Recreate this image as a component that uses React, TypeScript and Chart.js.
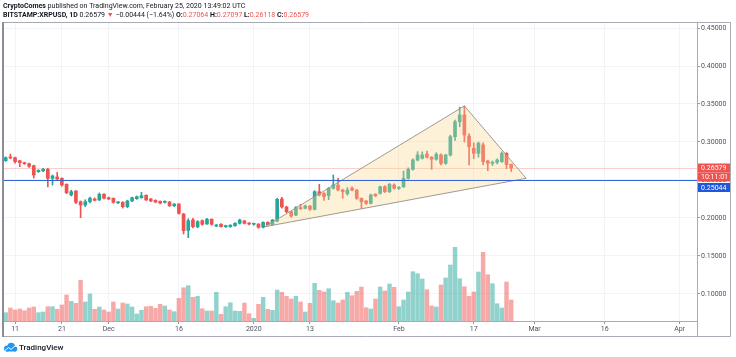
import React, { useEffect, useRef } from 'react';
import { Chart, registerables } from 'chart.js';

Chart.register(...registerables);

// ---- DATA (daily candles BITSTAMP:XRPUSD, day 0 = 2019-11-09) ----
const opens = [
  0.2754, 0.2800, 0.2794, 0.2754, 0.2728, 0.2715, 0.2688, 0.2610, 0.2620, 0.2640,
  0.2522, 0.2540, 0.2522, 0.2443, 0.2303, 0.2355, 0.2215, 0.2171, 0.2215, 0.2250,
  0.2237, 0.2312, 0.2267, 0.2259, 0.2200, 0.2207, 0.2149, 0.2224, 0.2254, 0.2267,
  0.2299, 0.2250, 0.2233, 0.2219, 0.2207, 0.2211, 0.2162, 0.2184, 0.2053, 0.1838,
  0.1974, 0.1886, 0.1965, 0.1922, 0.1983, 0.1895, 0.1917, 0.1886, 0.1886, 0.1899,
  0.1930, 0.1961, 0.1930, 0.1918, 0.1921, 0.1878, 0.1943, 0.1912, 0.1960, 0.2250,
  0.2145, 0.2083, 0.2039, 0.2136, 0.2128, 0.2158, 0.2114, 0.2346, 0.2325, 0.2293,
  0.2391, 0.2434, 0.2368, 0.2320, 0.2391, 0.2368, 0.2259, 0.2224, 0.2193, 0.2312,
  0.2325, 0.2412, 0.2346, 0.2434, 0.2390, 0.2412, 0.2522, 0.2641, 0.2763, 0.2786,
  0.2842, 0.2799, 0.2773, 0.2829, 0.2720, 0.2829, 0.3070, 0.3267, 0.3355, 0.3079,
  0.2917, 0.2851, 0.2961, 0.2750, 0.2720, 0.2733, 0.2741, 0.2851, 0.27064,
];
const highs = [
  0.2805, 0.2842, 0.2800, 0.2760, 0.2735, 0.2722, 0.2695, 0.2635, 0.2655, 0.2655,
  0.2565, 0.2600, 0.2530, 0.2450, 0.2365, 0.2360, 0.2225, 0.2240, 0.2275, 0.2265,
  0.2330, 0.2320, 0.2275, 0.2265, 0.2215, 0.2215, 0.2235, 0.2275, 0.2290, 0.2338,
  0.2305, 0.2258, 0.2240, 0.2225, 0.2225, 0.2218, 0.2190, 0.2190, 0.2060, 0.1990,
  0.1995, 0.1965, 0.1975, 0.1995, 0.1990, 0.1915, 0.1925, 0.1905, 0.1912, 0.1940,
  0.1985, 0.1970, 0.1940, 0.1930, 0.1925, 0.1950, 0.1950, 0.1980, 0.2260, 0.2272,
  0.2155, 0.2090, 0.2150, 0.2180, 0.2170, 0.2165, 0.2360, 0.2443, 0.2335, 0.2400,
  0.2566, 0.2522, 0.2380, 0.2400, 0.2410, 0.2375, 0.2265, 0.2230, 0.2315, 0.2320,
  0.2420, 0.2425, 0.2455, 0.2450, 0.2415, 0.2618, 0.2660, 0.2780, 0.2873, 0.2870,
  0.2880, 0.2810, 0.2860, 0.2845, 0.2840, 0.3090, 0.3290, 0.3457, 0.3474, 0.3110,
  0.2990, 0.3000, 0.2990, 0.2760, 0.2750, 0.2780, 0.2870, 0.2860, 0.27097,
];
const lows = [
  0.2745, 0.2780, 0.2720, 0.2675, 0.2705, 0.2665, 0.2526, 0.2600, 0.2610, 0.2410,
  0.2434, 0.2500, 0.2420, 0.2320, 0.2290, 0.2190, 0.2004, 0.2149, 0.2200, 0.2225,
  0.2230, 0.2250, 0.2240, 0.2195, 0.2190, 0.2130, 0.2135, 0.2215, 0.2245, 0.2260,
  0.2230, 0.2215, 0.2200, 0.2185, 0.2195, 0.2150, 0.2150, 0.2050, 0.1789, 0.1741,
  0.1870, 0.1870, 0.1905, 0.1915, 0.1905, 0.1885, 0.1880, 0.1875, 0.1878, 0.1890,
  0.1920, 0.1920, 0.1910, 0.1905, 0.1865, 0.1870, 0.1905, 0.1905, 0.1950, 0.2130,
  0.2070, 0.2010, 0.2030, 0.2110, 0.2120, 0.2100, 0.2105, 0.2290, 0.2230, 0.2240,
  0.2380, 0.2355, 0.2259, 0.2300, 0.2355, 0.2245, 0.2128, 0.2180, 0.2185, 0.2280,
  0.2315, 0.2335, 0.2335, 0.2380, 0.2375, 0.2400, 0.2510, 0.2630, 0.2750, 0.2775,
  0.2790, 0.2641, 0.2760, 0.2700, 0.2705, 0.2815, 0.3020, 0.3200, 0.3000, 0.2700,
  0.2780, 0.2800, 0.2700, 0.2622, 0.2690, 0.2710, 0.2730, 0.2650, 0.26118,
];
const closes = [
  0.2794, 0.2790, 0.2741, 0.2728, 0.2714, 0.2680, 0.2566, 0.2627, 0.2640, 0.2522,
  0.2553, 0.2513, 0.2434, 0.2333, 0.2346, 0.2207, 0.2171, 0.2215, 0.2260, 0.2233,
  0.2312, 0.2259, 0.2250, 0.2207, 0.2207, 0.2149, 0.2224, 0.2267, 0.2280, 0.2293,
  0.2237, 0.2224, 0.2211, 0.2197, 0.2219, 0.2162, 0.2184, 0.2062, 0.1833, 0.1965,
  0.1886, 0.1952, 0.1917, 0.1983, 0.1917, 0.1908, 0.1886, 0.1900, 0.1905, 0.1930,
  0.1974, 0.1930, 0.1921, 0.1922, 0.1878, 0.1943, 0.1912, 0.1974, 0.2246, 0.2145,
  0.2083, 0.2026, 0.2136, 0.2123, 0.2158, 0.2114, 0.2346, 0.2303, 0.2280, 0.2391,
  0.2434, 0.2368, 0.2346, 0.2368, 0.2368, 0.2259, 0.2215, 0.2193, 0.2303, 0.2293,
  0.2412, 0.2346, 0.2443, 0.2391, 0.2403, 0.2522, 0.2640, 0.2763, 0.2829, 0.2829,
  0.2799, 0.2773, 0.2838, 0.2720, 0.2829, 0.3070, 0.3267, 0.3355, 0.3092, 0.2938,
  0.2851, 0.2983, 0.2741, 0.2720, 0.2729, 0.2763, 0.2851, 0.27023, 0.26579,
];
const volumes = [
  8.3, 13, 11, 12, 10.3, 13, 14, 8.3, 9, 14.3,
  14.3, 11.7, 16, 26, 19.7, 17.7, 40.7, 19, 27, 11.7,
  14, 11, 9, 19, 12, 18, 17, 14, 7, 10.7,
  14.3, 14.7, 12.7, 16.7, 15, 11, 9.3, 22.7, 33.3, 35.3,
  23.7, 24.7, 12.3, 10, 10, 28.7, 6.7, 14.3, 18.3, 10,
  9.7, 18, 7.3, 2.7, 16.7, 23.7, 11.7, 10.7, 31, 28.7,
  24.7, 22, 24.7, 19, 9, 17.7, 37.7, 30.7, 29, 32.3,
  20.3, 18, 21, 28.7, 25.3, 29.7, 34, 13.3, 12, 22,
  34, 30, 37, 33.7, 14.3, 21, 29, 49.3, 47.3, 42,
  31.3, 15, 14, 36, 43, 56, 73.7, 42.3, 34.3, 24.7,
  29, 49, 68.7, 46.3, 37.3, 17.3, 13, 39, 21,
];

const xTickDays = [2, 12, 22, 37, 53, 65, 84, 100, 113, 128, 144];
const xTickLabels = ['11', '21', 'Dec', '16', '2020', '13', 'Feb', '17', 'Mar', '16', 'Apr'];
const yTicks = [0.1, 0.15, 0.2, 0.25, 0.3, 0.35, 0.4, 0.45];

const triangleDays = [55.4, 98.0, 111.2];
const trianglePrices = [0.1886, 0.3474, 0.2522];
const horizontalLinePrice = 0.25044;
const countdownText = '10:11:01';
const symbolText = 'BITSTAMP:XRPUSD, 1D';
const publisherText = 'CryptoComes';
const publishedText = ' published on TradingView.com, February 25, 2020 13:49:02 UTC';

// ---- STYLE ----
const UP = '#26a69a';
const DOWN = '#ef5350';
const UP_VOL = 'rgba(38,166,154,0.5)';
const DOWN_VOL = 'rgba(239,83,80,0.5)';
const BLUE_LINE = '#3563d6';
const BLUE_LABEL = '#1f58dc';
const TEXT = '#131722';
const AXIS_TEXT = '#4c525e';
const FONT = 'Roboto, "Open Sans", sans-serif';
const FRAME = '#a8abb4';

const fmt5 = (v: number) => v.toFixed(5);
const minus = (s: string) => s.replace('-', '\u2212');

const overlayPlugin = {
  id: 'overlay',
  beforeDraw(chart: any) {
    const { ctx, width, height } = chart;
    ctx.save();
    ctx.fillStyle = '#ffffff';
    ctx.fillRect(0, 0, width, height);
    ctx.restore();
  },
  beforeDatasetsDraw(chart: any) {
    const { ctx, chartArea: a, scales } = chart;
    const y = scales.y;
    const n = closes.length;
    ctx.save();
    const yl = Math.round(y.getPixelForValue(closes[n - 1])) + 0.5;
    ctx.strokeStyle = 'rgba(239,83,80,0.28)';
    ctx.lineWidth = 1;
    ctx.beginPath();
    ctx.moveTo(a.left, yl);
    ctx.lineTo(a.right, yl);
    ctx.stroke();
    ctx.restore();
  },
  afterDatasetsDraw(chart: any) {
    const { ctx, chartArea: a, scales } = chart;
    const x = scales.x;
    const y = scales.y;
    ctx.save();
    ctx.beginPath();
    triangleDays.forEach((d, i) => {
      const px = x.getPixelForValue(d);
      const py = y.getPixelForValue(trianglePrices[i]);
      if (i === 0) ctx.moveTo(px, py);
      else ctx.lineTo(px, py);
    });
    ctx.closePath();
    ctx.fillStyle = 'rgba(249,214,142,0.35)';
    ctx.fill();
    ctx.strokeStyle = '#a09b92';
    ctx.lineWidth = 1;
    ctx.stroke();
    const yh = Math.round(y.getPixelForValue(horizontalLinePrice)) + 0.5;
    ctx.strokeStyle = BLUE_LINE;
    ctx.beginPath();
    ctx.moveTo(a.left, yh);
    ctx.lineTo(a.right, yh);
    ctx.stroke();
    ctx.restore();
  },
  afterDraw(chart: any) {
    const { ctx, chartArea: a, scales } = chart;
    const y = scales.y;
    const n = closes.length;
    ctx.save();
    // frame
    ctx.strokeStyle = FRAME;
    ctx.lineWidth = 1;
    ctx.beginPath();
    ctx.moveTo(2.5, a.top - 0.5);
    ctx.lineTo(730.5, a.top - 0.5);
    ctx.lineTo(730.5, 336.5);
    ctx.lineTo(2.5, 336.5);
    ctx.stroke();
    ctx.beginPath();
    ctx.moveTo(a.right + 0.5, a.top);
    ctx.lineTo(a.right + 0.5, 336.5);
    ctx.stroke();
    ctx.strokeStyle = '#8a8d96';
    ctx.lineWidth = 2;
    ctx.beginPath();
    ctx.moveTo(3, a.top - 1);
    ctx.lineTo(3, 337);
    ctx.stroke();

    // price labels on axis
    const labelX = a.right + 1;
    const labelW = 730 - labelX;
    const boxH = 9;
    const lastY = y.getPixelForValue(closes[n - 1]);
    const drawBox = (top: number, color: string, text: string) => {
      ctx.fillStyle = color;
      ctx.fillRect(labelX, top, labelW, boxH);
      ctx.fillStyle = '#ffffff';
      ctx.font = `7px ${FONT}`;
      ctx.textBaseline = 'middle';
      ctx.textAlign = 'left';
      ctx.fillText(text, a.right + 4, top + boxH / 2 + 0.5);
    };
    const redTop = lastY - 4.5;
    drawBox(redTop, DOWN, fmt5(closes[n - 1]));
    drawBox(redTop + boxH, DOWN, countdownText);
    const blueY = y.getPixelForValue(horizontalLinePrice);
    const blueTop = Math.max(blueY - 4.5, redTop + 2 * boxH + 1.5);
    drawBox(blueTop, BLUE_LABEL, fmt5(horizontalLinePrice));

    // header
    const O = opens[n - 1];
    const H = highs[n - 1];
    const L = lows[n - 1];
    const C = closes[n - 1];
    const chg = C - closes[n - 2];
    const pct = (chg / closes[n - 2]) * 100;
    const segs1 = [
      { t: publisherText, b: true, c: TEXT },
      { t: publishedText, b: false, c: TEXT },
    ];
    const segs2 = [
      { t: symbolText, b: true, c: TEXT },
      { t: ' ' + fmt5(C) + ' ', b: false, c: TEXT },
      { t: '\u25BC', b: false, c: DOWN },
      { t: ' ' + minus(chg.toFixed(5)) + ' (' + minus(pct.toFixed(2)) + '%) ', b: false, c: TEXT },
      { t: 'O:', b: true, c: TEXT },
      { t: fmt5(O), b: false, c: DOWN },
      { t: ' H:', b: true, c: TEXT },
      { t: fmt5(H), b: false, c: DOWN },
      { t: ' L:', b: true, c: TEXT },
      { t: fmt5(L), b: false, c: DOWN },
      { t: ' C:', b: true, c: TEXT },
      { t: fmt5(C), b: false, c: DOWN },
    ];
    const drawSegs = (segs: any[], x0: number, yy: number) => {
      let cx = x0;
      ctx.textBaseline = 'middle';
      ctx.textAlign = 'left';
      for (const s of segs) {
        ctx.font = `${s.b ? 'bold ' : ''}7px ${FONT}`;
        ctx.fillStyle = s.c;
        ctx.fillText(s.t, cx, yy);
        cx += ctx.measureText(s.t).width;
      }
    };
    drawSegs(segs1, 3, 6);
    drawSegs(segs2, 3, 15.5);

    // footer logo
    ctx.fillStyle = '#2196f3';
    ctx.beginPath();
    ctx.arc(7, 348.5, 3, 0, Math.PI * 2);
    ctx.arc(11.2, 346.5, 3.8, 0, Math.PI * 2);
    ctx.arc(15, 349, 2.4, 0, Math.PI * 2);
    ctx.fill();
    ctx.fillRect(6, 348.5, 10, 3);
    ctx.strokeStyle = '#ffffff';
    ctx.lineWidth = 1;
    ctx.beginPath();
    ctx.moveTo(5, 350.5);
    ctx.lineTo(8.5, 347.5);
    ctx.lineTo(11, 349.5);
    ctx.lineTo(15.5, 345.5);
    ctx.stroke();
    ctx.fillStyle = TEXT;
    ctx.font = `500 8px ${FONT}`;
    ctx.textBaseline = 'middle';
    ctx.fillText('TradingView', 19, 347.5);
    ctx.restore();
  },
};

export default function App() {
  const ref = useRef<HTMLCanvasElement | null>(null);

  useEffect(() => {
    if (!ref.current) return;
    const idx = closes.map((_, i) => i);
    const candleColors = idx.map((i) => (closes[i] >= opens[i] ? UP : DOWN));
    const volColors = idx.map((i) => (closes[i] >= opens[i] ? UP_VOL : DOWN_VOL));

    const chart = new Chart(ref.current, {
      type: 'bar',
      data: {
        datasets: [
          {
            label: 'body',
            data: idx.map((i) => ({ x: i, y: [opens[i], closes[i]] })) as any,
            backgroundColor: candleColors,
            barThickness: 3,
            minBarLength: 1,
            grouped: false,
            order: 0,
            yAxisID: 'y',
          } as any,
          {
            label: 'wick',
            data: idx.map((i) => ({ x: i, y: [lows[i], highs[i]] })) as any,
            backgroundColor: candleColors,
            barThickness: 1,
            grouped: false,
            order: 1,
            yAxisID: 'y',
          } as any,
          {
            label: 'volume',
            data: idx.map((i) => ({ x: i, y: volumes[i] })) as any,
            backgroundColor: volColors,
            barThickness: 3.8,
            grouped: false,
            order: 2,
            yAxisID: 'yv',
          } as any,
        ],
      },
      options: {
        animation: false,
        responsive: false,
        devicePixelRatio: 1,
        layout: { padding: { left: 3, top: 23, right: 5, bottom: 21 } },
        plugins: { legend: { display: false }, tooltip: { enabled: false } },
        scales: {
          x: {
            type: 'linear',
            min: -0.58,
            max: 147.7,
            offset: false,
            grid: {
              color: '#f1f3f7',
              offset: false,
              drawTicks: true,
              tickLength: 3,
              tickColor: '#9598a1',
            },
            border: { color: FRAME },
            afterBuildTicks: (s: any) => {
              s.ticks = xTickDays.map((v) => ({ value: v }));
            },
            afterFit: (s: any) => {
              s.height = 15;
            },
            ticks: {
              autoSkip: false,
              maxRotation: 0,
              padding: 1,
              color: AXIS_TEXT,
              font: { family: FONT, size: 7 },
              callback: (_v: any, i: number) => xTickLabels[i],
            },
          },
          y: {
            type: 'linear',
            position: 'right',
            min: 0.06447,
            max: 0.45658,
            grid: {
              color: '#f1f3f7',
              drawTicks: true,
              tickLength: 3,
              tickColor: '#9598a1',
            },
            border: { color: FRAME },
            afterBuildTicks: (s: any) => {
              s.ticks = yTicks.map((v) => ({ value: v }));
            },
            afterFit: (s: any) => {
              s.width = 34;
            },
            ticks: {
              padding: 1,
              color: AXIS_TEXT,
              font: { family: FONT, size: 7 },
              callback: (v: any) => Number(v).toFixed(5),
            },
          },
          yv: {
            type: 'linear',
            display: false,
            min: 0,
            max: 298,
          },
        },
      } as any,
      plugins: [overlayPlugin],
    });
    return () => chart.destroy();
  }, []);

  return (
    <div style={{ position: 'fixed', left: 0, top: 0, width: 736, height: 357, background: '#fff' }}>
      <canvas ref={ref} width={736} height={357} style={{ display: 'block' }} />
    </div>
  );
}
